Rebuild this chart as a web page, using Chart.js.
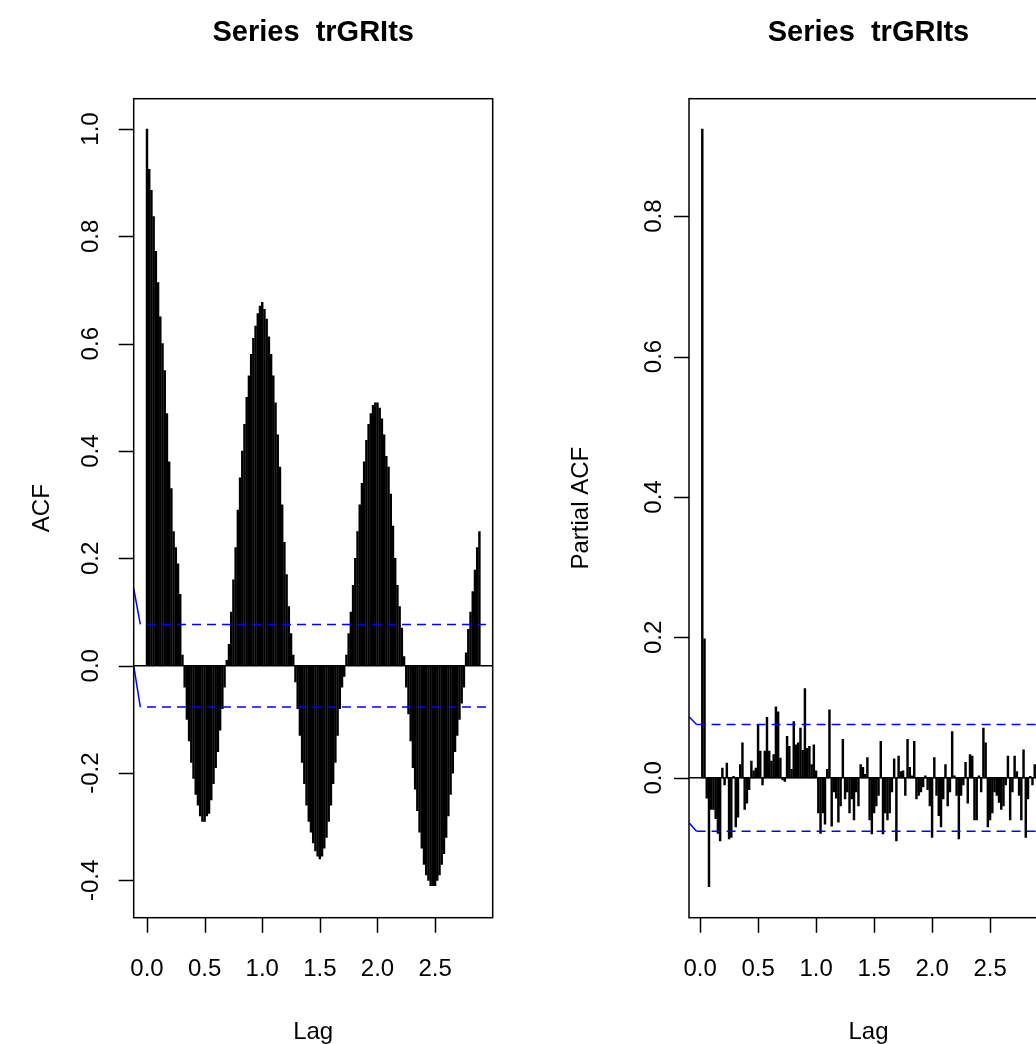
<!DOCTYPE html>
<html>
<head>
<meta charset="utf-8">
<script src="https://cdn.jsdelivr.net/npm/chart.js@4.4.1/dist/chart.umd.min.js"></script>
<style>
  html, body { margin: 0; padding: 0; background: #fff; overflow: hidden; }
  #wrap { position: relative; width: 1036px; height: 1044px; overflow: hidden; }
  #acf { position: absolute; left: 0; top: 0; }
  #pacf { position: absolute; left: 518px; top: 0; }
</style>
</head>
<body>
<div id="wrap">
  <canvas id="acf" width="518" height="1044"></canvas>
  <canvas id="pacf" width="560" height="1044"></canvas>
</div>
<script>
// weekly series, lag shown in years
const FREQ = 52;
const seriesTitle = 'Series  trGRIts';

// ACF, lags 0..150
const acfValues = [
  1.0, 0.925, 0.886, 0.837, 0.772, 0.714, 0.65, 0.60, 0.55, 0.47,
  0.38, 0.33, 0.25, 0.22, 0.19, 0.133, 0.02, -0.04, -0.10, -0.14,
  -0.18, -0.21, -0.24, -0.26, -0.28, -0.29, -0.29, -0.28, -0.275, -0.25,
  -0.22, -0.19, -0.16, -0.12, -0.08, -0.04, 0.01, 0.04, 0.10, 0.16,
  0.22, 0.29, 0.35, 0.40, 0.45, 0.50, 0.54, 0.58, 0.61, 0.633,
  0.656, 0.67, 0.677, 0.664, 0.646, 0.613, 0.58, 0.54, 0.49, 0.43,
  0.37, 0.30, 0.23, 0.17, 0.11, 0.06, 0.02, -0.03, -0.08, -0.13,
  -0.18, -0.22, -0.26, -0.29, -0.31, -0.33, -0.345, -0.355, -0.36, -0.355,
  -0.34, -0.32, -0.29, -0.26, -0.22, -0.18, -0.13, -0.08, -0.04, -0.02,
  0.02, 0.06, 0.10, 0.15, 0.20, 0.25, 0.30, 0.34, 0.38, 0.42,
  0.45, 0.47, 0.485, 0.49, 0.49, 0.48, 0.46, 0.43, 0.39, 0.37,
  0.32, 0.26, 0.20, 0.15, 0.11, 0.07, 0.017, -0.04, -0.09, -0.14,
  -0.19, -0.23, -0.27, -0.31, -0.34, -0.37, -0.39, -0.40, -0.41, -0.41,
  -0.41, -0.40, -0.39, -0.37, -0.35, -0.32, -0.28, -0.24, -0.20, -0.16,
  -0.13, -0.10, -0.07, -0.04, 0.024, 0.068, 0.10, 0.138, 0.178, 0.22,
  0.25
];

// PACF, lags 1..150
const pacfValues = [
  0.924, 0.198, -0.029, -0.155, -0.045, -0.045, -0.058, -0.079, -0.09, 0.014,
  -0.01, 0.021, -0.087, -0.085, 0.002, -0.07, -0.056, 0.019, 0.05, -0.045,
  -0.036, -0.017, 0.024, 0.01, 0.014, 0.075, 0.038, -0.01, 0.038, 0.086,
  0.038, 0.024, 0.033, 0.101, 0.094, 0.028, -0.003, -0.005, 0.059, 0.045,
  0.012, 0.08, 0.047, 0.05, 0.071, 0.039, 0.127, 0.042, 0.045, 0.019,
  0.047, 0.01, -0.05, -0.079, -0.05, -0.066, 0.012, 0.097, -0.069, -0.02,
  -0.029, -0.063, -0.04, 0.055, -0.03, -0.02, -0.05, -0.03, -0.06, -0.02,
  -0.04, 0.019, 0.015, 0.005, 0.029, -0.06, -0.08, -0.05, -0.04, -0.025,
  0.052, -0.08, -0.05, -0.06, -0.05, -0.02, 0.027, -0.09, 0.031, 0.009,
  0.01, -0.025, 0.055, 0.015, 0.003, 0.052, -0.03, -0.025, -0.02, -0.013,
  0.003, -0.017, -0.04, -0.085, 0.029, -0.025, -0.054, -0.07, -0.03, 0.019,
  -0.04, -0.02, 0.066, 0.003, -0.025, -0.087, -0.025, -0.01, 0.022, -0.036,
  0.033, 0.031, -0.06, -0.06, 0.003, -0.02, 0.071, 0.05, -0.07, -0.06,
  -0.05, -0.02, -0.025, -0.035, -0.045, -0.04, -0.01, 0.031, -0.06, -0.02,
  0.031, 0.009, -0.025, -0.06, 0.04, -0.085, -0.03, 0.002, -0.01, 0.019
];

const lagTicks = [0, 0.5, 1, 1.5, 2, 2.5];
const acfTicks = [-0.4, -0.2, 0, 0.2, 0.4, 0.6, 0.8, 1.0];
const pacfTicks = [0, 0.2, 0.4, 0.6, 0.8];

// 95% bounds and the odd little lead-in strokes at the left edge
const acfBound = 0.077;
const pacfBound = 0.076;
const acfLeadUpper = [[-0.1154, 0.144], [-0.058, 0.077]];
const acfLeadLower = [[-0.1154, 0.0], [-0.058, -0.077]];
const pacfLeadUpper = [[-0.0954, 0.087], [-0.030, 0.076]];
const pacfLeadLower = [[-0.0954, -0.064], [-0.030, -0.076]];

const FONT = '"Liberation Sans", Arial, Helvetica, sans-serif';
const TICK = 15;

const rFrame = {
  id: 'rFrame',
  afterDraw(chart, args, o) {
    const { ctx, chartArea: a, scales: { x, y } } = chart;
    ctx.save();
    ctx.strokeStyle = '#000';
    ctx.fillStyle = '#000';
    ctx.lineWidth = 1.5;
    ctx.strokeRect(a.left, a.top, a.right - a.left, a.bottom - a.top);

    ctx.beginPath();
    o.xTicks.forEach(v => {
      const px = Math.round(x.getPixelForValue(v)) + 0.5;
      ctx.moveTo(px, a.bottom);
      ctx.lineTo(px, a.bottom + TICK);
    });
    o.yTicks.forEach(v => {
      const py = Math.round(y.getPixelForValue(v)) + 0.5;
      ctx.moveTo(a.left, py);
      ctx.lineTo(a.left - TICK, py);
    });
    ctx.stroke();

    ctx.font = '24px ' + FONT;
    ctx.textAlign = 'center';
    ctx.textBaseline = 'alphabetic';
    o.xTicks.forEach(v => ctx.fillText(v.toFixed(1), x.getPixelForValue(v), 976));
    ctx.fillText('Lag', (a.left + a.right) / 2, 1039);

    o.yTicks.forEach(v => {
      ctx.save();
      ctx.translate(a.left - o.yTickGap, y.getPixelForValue(v));
      ctx.rotate(-Math.PI / 2);
      ctx.fillText(v.toFixed(1), 0, 0);
      ctx.restore();
    });
    ctx.save();
    ctx.translate(o.ylabX, (a.top + a.bottom) / 2);
    ctx.rotate(-Math.PI / 2);
    ctx.fillText(o.ylab, 0, 0);
    ctx.restore();

    ctx.font = 'bold 29px ' + FONT;
    ctx.fillText(seriesTitle, (a.left + a.right) / 2, 41);
    ctx.restore();
  }
};

function seg(pts) {
  return pts.map(p => ({ x: p[0], y: p[1] }));
}

function lineSet(data, color, dash) {
  return {
    type: 'line', data, borderColor: color, borderWidth: 1.5,
    borderDash: dash || [], pointRadius: 0, tension: 0, fill: false
  };
}

function makeChart(id, cfg) {
  return new Chart(document.getElementById(id), {
    type: 'bar',
    data: {
      datasets: [
        lineSet([{ x: cfg.xMin, y: 0 }, { x: cfg.xMax, y: 0 }], '#000'),
        lineSet([{ x: cfg.dashStart, y: cfg.bound }, { x: cfg.xMax, y: cfg.bound }], '#0000ff', [9, 6]),
        lineSet([{ x: cfg.dashStart, y: -cfg.bound }, { x: cfg.xMax, y: -cfg.bound }], '#0000ff', [9, 6]),
        lineSet(seg(cfg.leadUpper), '#0000ff'),
        lineSet(seg(cfg.leadLower), '#0000ff'),
        {
          type: 'bar',
          data: cfg.values.map((v, i) => ({ x: (i + cfg.firstLag) / FREQ, y: v })),
          backgroundColor: '#000',
          borderWidth: 0,
          barThickness: 1.8
        }
      ]
    },
    options: {
      responsive: false,
      animation: false,
      events: [],
      layout: { padding: cfg.padding },
      plugins: {
        legend: { display: false },
        tooltip: { enabled: false },
        rFrame: { xTicks: lagTicks, yTicks: cfg.yTicks, yTickGap: cfg.yTickGap, ylab: cfg.ylab, ylabX: cfg.ylabX }
      },
      scales: {
        x: { type: 'linear', min: cfg.xMin, max: cfg.xMax, offset: false, display: false },
        y: { type: 'linear', min: cfg.yMin, max: cfg.yMax, display: false }
      }
    },
    plugins: [rFrame]
  });
}

makeChart('acf', {
  values: acfValues, firstLag: 0,
  xMin: -0.11538, xMax: 3.0, yMin: -0.4695, yMax: 1.0565,
  bound: acfBound, dashStart: 0, leadUpper: acfLeadUpper, leadLower: acfLeadLower,
  yTicks: acfTicks, yTickGap: 36, ylab: 'ACF', ylabX: 49,
  padding: { left: 133.7, top: 98.7, right: 518 - 492.7, bottom: 1044 - 917.7 }
});

makeChart('pacf', {
  values: pacfValues, firstLag: 1,
  xMin: -0.09538, xMax: 2.9992, yMin: -0.1992, yMax: 0.9672,
  bound: pacfBound, dashStart: -0.030, leadUpper: pacfLeadUpper, leadLower: pacfLeadLower,
  yTicks: pacfTicks, yTickGap: 28, ylab: 'Partial ACF', ylabX: 70,
  padding: { left: 171, top: 98.7, right: 560 - 530, bottom: 1044 - 917.7 }
});
</script>
</body>
</html>
